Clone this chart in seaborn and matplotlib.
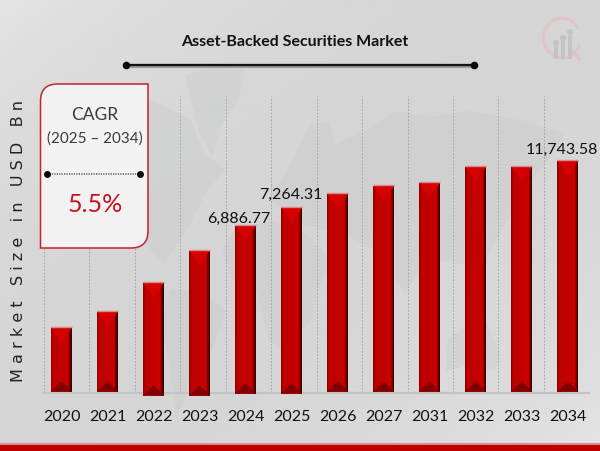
import numpy as np
import pandas as pd
import matplotlib
matplotlib.use("Agg")
import matplotlib.pyplot as plt
import seaborn as sns
from matplotlib.patches import PathPatch, Polygon, Circle, Arc, Rectangle
from matplotlib.path import Path
from matplotlib.colors import LinearSegmentedColormap

years = ["2020", "2021", "2022", "2023", "2024", "2025",
         "2026", "2027", "2031", "2032", "2033", "2034"]
# bar heights (no y axis is shown, the printed labels don't scale with them)
heights = [65, 81, 110, 142, 167, 185, 199, 206.5, 210, 226, 226, 232]
value_labels = {"2024": "6,886.77", "2025": "7,264.31", "2034": "11,743.58"}

W, H = 600, 452

sns.set_theme(style="white")
plt.rcParams["font.family"] = ["Lato", "DejaVu Sans"]

fig = plt.figure(figsize=(W / 100, H / 100), dpi=100)

# --- background gradient + world map watermark ---
bg = fig.add_axes([0, 0, 1, 1], zorder=0)
bg.set_xlim(0, W)
bg.set_ylim(H, 0)
bg.axis("off")
yy, xx = np.mgrid[0:1:200j, 0:1:200j]
diag = (xx + yy) / 2
shade = 0.90 - 0.065 * np.sin(np.pi * diag) ** 0.6
bg.imshow(shade, extent=[0, W, H, 0], cmap="gray", vmin=0, vmax=1, aspect="auto")

land = [
    # north america
    [(60, 140), (110, 118), (150, 100), (190, 120), (205, 155), (225, 170), (205, 195),
     (190, 225), (165, 265), (150, 250), (120, 205), (85, 165)],
    # greenland
    [(185, 76), (215, 68), (245, 72), (238, 100), (222, 125), (212, 157), (200, 135), (192, 105)],
    # south america
    [(170, 290), (200, 292), (226, 312), (212, 350), (190, 385), (176, 422), (172, 385), (162, 325)],
    # africa
    [(232, 232), (270, 222), (305, 235), (335, 262), (320, 285), (312, 320), (285, 352),
     (268, 340), (258, 295), (232, 280), (222, 255)],
    # eurasia
    [(270, 200), (290, 165), (310, 125), (330, 122), (335, 145), (370, 130), (395, 112), (430, 118),
     (470, 112), (525, 122), (565, 135), (545, 165), (525, 190), (505, 225), (480, 270),
     (450, 262), (425, 262), (405, 295), (380, 255), (345, 235), (300, 225)],
    # australia
    [(448, 340), (470, 325), (486, 322), (500, 355), (495, 372), (470, 366), (446, 372)],
]
for pts in land:
    bg.add_patch(Polygon(pts, closed=True, fc="#c6c7c8", ec="none", alpha=0.3, joinstyle="round"))

# red footer band
bg.add_patch(Rectangle((0, 444), W, 1.5, fc="#d98a8a", ec="none"))
bg.add_patch(Rectangle((0, 445.5), W, 7, fc="#c00000", ec="none"))

# --- bars ---
ax = fig.add_axes([43.5 / W, 1 - 393.5 / H, 546 / W, 297 / H], zorder=1)
ax.patch.set_alpha(0)
df = pd.DataFrame({"year": years, "height": heights})
sns.barplot(data=df, x="year", y="height", color="#c80000", width=0.46,
            saturation=1, linewidth=0, ax=ax)
ax.set_xlabel("")
ax.set_ylabel("")
ax.set_yticks([])
ax.tick_params(axis="x", length=0, pad=12, labelsize=11.5, labelcolor="#111111")
sns.despine(ax=ax, left=True)
ax.spines["bottom"].set_color("#c2c3c4")
ax.spines["bottom"].set_linewidth(1.6)
ax.spines["bottom"].set_zorder(0.6)
ax.vlines(np.linspace(0, 1, 13), 0, 1, transform=ax.transAxes, colors="#a8a9aa",
          linewidth=0.7, linestyles=(0, (2, 1.5)), zorder=0.5)

# horizontal shading on each bar, dark on the right edge
shade_cmap = LinearSegmentedColormap.from_list(
    "bar", [(0, "#8e0000"), (0.08, "#bc0000"), (0.8, "#c80000"), (0.88, "#780000"), (1, "#180000")])
grad_x = np.linspace(0, 1, 40)[None, :-1]
for i, (bar, year) in enumerate(zip(ax.patches, years)):
    # bars of these years hang slightly past the baseline in the reference
    drop = {"2022": 3, "2023": 3, "2024": 1, "2025": 1}.get(year, -1)
    x0, w, top = bar.get_x(), bar.get_width(), heights[i]
    y0 = -drop
    bar.set_y(y0)
    bar.set_height(top - y0)
    bar.set_clip_on(False)
    ax.pcolormesh(np.linspace(x0, x0 + w, 40), [y0, top], grad_x, cmap=shade_cmap, vmin=0, vmax=1,
                  zorder=2, clip_on=False, antialiased=False, linewidth=0)
    # bevel facets top and bottom
    cx = x0 + w / 2
    ax.add_patch(Polygon([(x0, top), (x0 + w, top), (cx, top - 15)],
                         fc="#d60000", ec="none", zorder=3, clip_on=False))
    ax.add_patch(Polygon([(x0, y0), (x0 + w, y0), (cx, y0 + 10)],
                         fc="#800000", ec="none", zorder=3, clip_on=False))
    ax.plot([x0, x0 + w], [top + 0.6, top + 0.6], color="#d88a8a", lw=1, zorder=3,
            solid_capstyle="butt", clip_on=False)
ax.set_xlim(-0.39, 11.47)
ax.set_ylim(0, 297)

label_shift = {"2024": -7, "2025": -1, "2034": -6}
label_pad = {"2024": 1, "2025": 7, "2034": 5}
for i, year in enumerate(years):
    if year in value_labels:
        ax.annotate(value_labels[year], (i, heights[i]), xytext=(label_shift[year], label_pad[year]),
                    textcoords="offset pixels", ha="center", va="bottom", fontsize=11.5,
                    color="#111111", annotation_clip=False)

# --- title, callout and other furniture, in pixel coords ---
top_ax = fig.add_axes([0, 0, 1, 1], zorder=2)
top_ax.set_xlim(0, W)
top_ax.set_ylim(H, 0)
top_ax.axis("off")
top_ax.patch.set_alpha(0)

top_ax.text(295, 42, "Asset-Backed Securities Market", ha="center", va="center",
            fontsize=11.5, fontweight="bold", color="#111111")
top_ax.plot([126, 473], [66.5, 66.5], color="#9a9a9a", lw=3, solid_capstyle="butt")
top_ax.plot([126, 473], [65.5, 65.5], color="#111111", lw=1.6, solid_capstyle="butt")
top_ax.plot([126, 473.5], [66, 66], "o", color="#0a0a0a", ms=5.5, mew=0)

top_ax.text(19, 241, "M a r k e t   S i z e   i n   U S D   B n", rotation=90, ha="center", va="center",
            fontsize=11.5, color="#222222", family="DejaVu Sans")

# callout box: top-left and bottom-right corners rounded
x0, x1, y0, y1, r = 40.5, 148, 85, 249, 17
verts = [(x0 + r, y0), (x1, y0), (x1, y1 - r), (x1, y1), (x1 - r, y1), (x0, y1),
         (x0, y0 + r), (x0, y0), (x0 + r, y0), (x0 + r, y0)]
codes = [Path.MOVETO, Path.LINETO, Path.LINETO, Path.CURVE3, Path.CURVE3, Path.LINETO,
         Path.LINETO, Path.CURVE3, Path.CURVE3, Path.CLOSEPOLY]
top_ax.add_patch(PathPatch(Path(verts, codes), fc="#f2f2f2", ec="#c5222c", lw=1.1))
top_ax.text(95, 115, "CAGR", ha="center", va="center", fontsize=12.5, color="#3a3a3a")
top_ax.text(95, 139, "(2025 – 2034)", ha="center", va="center", fontsize=11, color="#3a3a3a")
top_ax.plot([47, 139], [175, 175], color="#555555", lw=1.1, ls=(0, (0.8, 0.8)))
top_ax.plot([47, 139.5], [175, 175], "o", color="#0a0a0a", ms=5, mew=0)
top_ax.text(95.5, 205, "5.5%", ha="center", va="center", fontsize=18, color="#c8101e")

# faint logo, top right
top_ax.add_patch(Arc((562, 39), 37, 40, theta1=20, theta2=330, ec="#e0c4c6", lw=2.2))
top_ax.plot([574, 579], [53, 60], color="#e0c4c6", lw=3, solid_capstyle="round")
for bx, by, bh in [(556, 47, 13), (563, 42, 18), (570, 36, 24)]:
    top_ax.add_patch(Rectangle((bx - 2.2, by), 4.4, bh, fc="#c2c3c5", ec="none"))
    top_ax.add_patch(Circle((bx, by - 3), 3, fc="#c2c3c5", ec="none"))

fig.savefig("out.png", dpi=100)
plt.close(fig)
